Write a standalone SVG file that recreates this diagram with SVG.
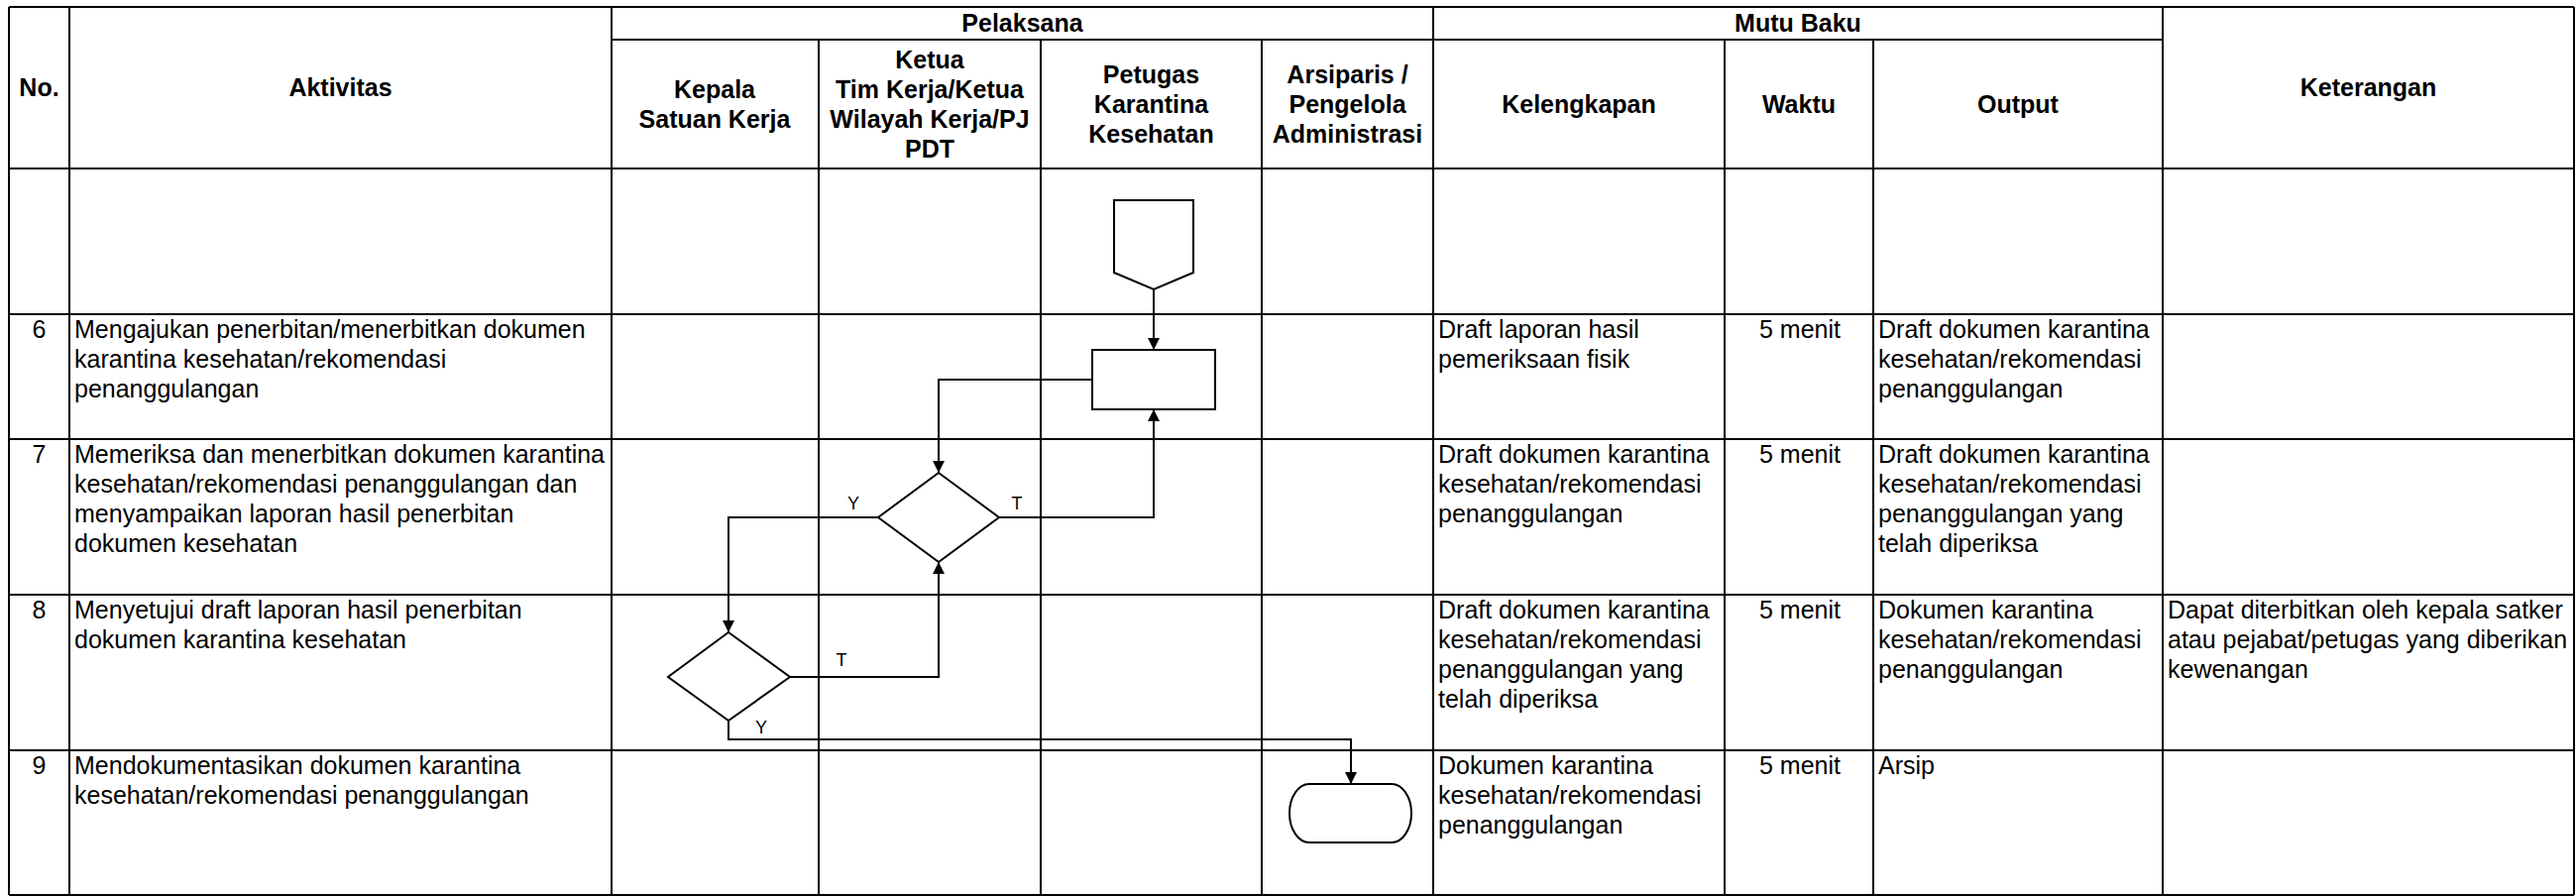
<svg xmlns="http://www.w3.org/2000/svg" width="2599" height="904" viewBox="0 0 2599 904">
<style>
text{font-family:"Liberation Sans",Arial,sans-serif;font-size:25px;fill:#000}
.h{font-weight:bold;text-anchor:middle}
.c{text-anchor:middle}
.lbl{font-size:18px;text-anchor:middle}
.grid line{stroke:#000;stroke-width:2}
.shape{fill:#fff;stroke:#000;stroke-width:2}
.conn path{fill:none;stroke:#000;stroke-width:2}
</style>
<defs>
<marker id="arr" markerUnits="userSpaceOnUse" markerWidth="12" markerHeight="12" refX="12" refY="6" orient="auto">
<path d="M0,0 L12,6 L0,12 Z" fill="#000"/>
</marker>
</defs>
<rect width="2599" height="904" fill="#fff"/>
<g id="table" class="grid">
<line x1="9" y1="7" x2="2597" y2="7"/>
<line x1="617" y1="40" x2="2182" y2="40"/>
<line x1="9" y1="170" x2="2597" y2="170"/>
<line x1="9" y1="317" x2="2597" y2="317"/>
<line x1="9" y1="443" x2="2597" y2="443"/>
<line x1="9" y1="600" x2="2597" y2="600"/>
<line x1="9" y1="757" x2="2597" y2="757"/>
<line x1="9" y1="903" x2="2597" y2="903"/>
<line x1="9" y1="7" x2="9" y2="903"/>
<line x1="70" y1="7" x2="70" y2="903"/>
<line x1="617" y1="7" x2="617" y2="903"/>
<line x1="826" y1="40" x2="826" y2="903"/>
<line x1="1050" y1="40" x2="1050" y2="903"/>
<line x1="1273" y1="40" x2="1273" y2="903"/>
<line x1="1446" y1="7" x2="1446" y2="903"/>
<line x1="1740" y1="40" x2="1740" y2="903"/>
<line x1="1890" y1="40" x2="1890" y2="903"/>
<line x1="2182" y1="7" x2="2182" y2="903"/>
<line x1="2597" y1="7" x2="2597" y2="903"/>
</g>
<g id="header">
<text class="h" x="39.5" y="97">No.</text>
<text class="h" x="343.5" y="97">Aktivitas</text>
<text class="h" x="1031.5" y="32">Pelaksana</text>
<text class="h" x="1814" y="32">Mutu Baku</text>
<text class="h" x="2389.5" y="97">Keterangan</text>
<text class="h" x="721"><tspan x="721" y="99">Kepala</tspan><tspan x="721" y="129">Satuan Kerja</tspan></text>
<text class="h" x="938"><tspan x="938" y="69">Ketua</tspan><tspan x="938" y="99">Tim Kerja/Ketua</tspan><tspan x="938" y="129">Wilayah Kerja/PJ</tspan><tspan x="938" y="159">PDT</tspan></text>
<text class="h" x="1161.5"><tspan x="1161.5" y="84">Petugas</tspan><tspan x="1161.5" y="114">Karantina</tspan><tspan x="1161.5" y="144">Kesehatan</tspan></text>
<text class="h" x="1359.5"><tspan x="1359.5" y="84">Arsiparis /</tspan><tspan x="1359.5" y="114">Pengelola</tspan><tspan x="1359.5" y="144">Administrasi</tspan></text>
<text class="h" x="1593" y="114">Kelengkapan</text>
<text class="h" x="1815" y="114">Waktu</text>
<text class="h" x="2036" y="114">Output</text>
</g>
<g id="row6">
<text class="c" x="39.5" y="341">6</text>
<text x="75"><tspan x="75" y="341">Mengajukan penerbitan/menerbitkan dokumen</tspan><tspan x="75" y="371">karantina kesehatan/rekomendasi</tspan><tspan x="75" y="401">penanggulangan</tspan></text>
<text x="1451"><tspan x="1451" y="341">Draft laporan hasil</tspan><tspan x="1451" y="371">pemeriksaan fisik</tspan></text>
<text class="c" x="1816" y="341">5 menit</text>
<text x="1895"><tspan x="1895" y="341">Draft dokumen karantina</tspan><tspan x="1895" y="371">kesehatan/rekomendasi</tspan><tspan x="1895" y="401">penanggulangan</tspan></text>
</g>
<g id="row7">
<text class="c" x="39.5" y="467">7</text>
<text x="75"><tspan x="75" y="467">Memeriksa dan menerbitkan dokumen karantina</tspan><tspan x="75" y="497">kesehatan/rekomendasi penanggulangan dan</tspan><tspan x="75" y="527">menyampaikan laporan hasil penerbitan</tspan><tspan x="75" y="557">dokumen kesehatan</tspan></text>
<text x="1451"><tspan x="1451" y="467">Draft dokumen karantina</tspan><tspan x="1451" y="497">kesehatan/rekomendasi</tspan><tspan x="1451" y="527">penanggulangan</tspan></text>
<text class="c" x="1816" y="467">5 menit</text>
<text x="1895"><tspan x="1895" y="467">Draft dokumen karantina</tspan><tspan x="1895" y="497">kesehatan/rekomendasi</tspan><tspan x="1895" y="527">penanggulangan yang</tspan><tspan x="1895" y="557">telah diperiksa</tspan></text>
</g>
<g id="row8">
<text class="c" x="39.5" y="624">8</text>
<text x="75"><tspan x="75" y="624">Menyetujui draft laporan hasil penerbitan</tspan><tspan x="75" y="654">dokumen karantina kesehatan</tspan></text>
<text x="1451"><tspan x="1451" y="624">Draft dokumen karantina</tspan><tspan x="1451" y="654">kesehatan/rekomendasi</tspan><tspan x="1451" y="684">penanggulangan yang</tspan><tspan x="1451" y="714">telah diperiksa</tspan></text>
<text class="c" x="1816" y="624">5 menit</text>
<text x="1895"><tspan x="1895" y="624">Dokumen karantina</tspan><tspan x="1895" y="654">kesehatan/rekomendasi</tspan><tspan x="1895" y="684">penanggulangan</tspan></text>
<text x="2187"><tspan x="2187" y="624">Dapat diterbitkan oleh kepala satker</tspan><tspan x="2187" y="654">atau pejabat/petugas yang diberikan</tspan><tspan x="2187" y="684">kewenangan</tspan></text>
</g>
<g id="row9">
<text class="c" x="39.5" y="781">9</text>
<text x="75"><tspan x="75" y="781">Mendokumentasikan dokumen karantina</tspan><tspan x="75" y="811">kesehatan/rekomendasi penanggulangan</tspan></text>
<text x="1451"><tspan x="1451" y="781">Dokumen karantina</tspan><tspan x="1451" y="811">kesehatan/rekomendasi</tspan><tspan x="1451" y="841">penanggulangan</tspan></text>
<text class="c" x="1816" y="781">5 menit</text>
<text x="1895" y="781">Arsip</text>
</g>
<g id="connectors" class="conn">
<path d="M1164,292 L1164,353" marker-end="url(#arr)"/>
<path d="M1102,383 L947,383 L947,477" marker-end="url(#arr)"/>
<path d="M1008,522 L1164,522 L1164,413" marker-end="url(#arr)"/>
<path d="M886,522 L735,522 L735,638" marker-end="url(#arr)"/>
<path d="M797,683 L947,683 L947,567" marker-end="url(#arr)"/>
<path d="M735,727 L735,746 L1363,746 L1363,791" marker-end="url(#arr)"/>
</g>
<g id="node-start">
<path class="shape" d="M1124,202 L1204,202 L1204,275 L1164,292 L1124,275 Z"/>
</g>
<g id="node-process">
<rect class="shape" x="1102" y="353" width="124" height="60"/>
</g>
<g id="node-decision1">
<path class="shape" d="M947,477 L1008,522 L947,567 L886,522 Z"/>
<text class="lbl" x="861" y="514">Y</text>
<text class="lbl" x="1026" y="514">T</text>
</g>
<g id="node-decision2">
<path class="shape" d="M735,638 L797,683 L735,727 L674,683 Z"/>
<text class="lbl" x="849" y="672">T</text>
<text class="lbl" x="768" y="740">Y</text>
</g>
<g id="node-end">
<rect class="shape" x="1301" y="791" width="123" height="59" rx="20" ry="29.5"/>
</g>
</svg>
